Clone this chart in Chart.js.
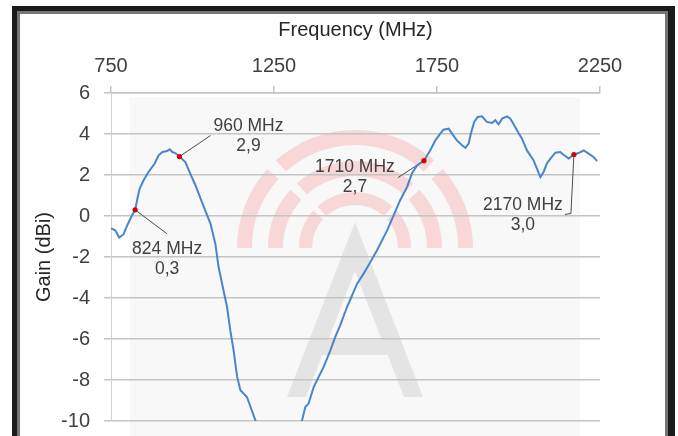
<!DOCTYPE html>
<html>
<head>
<meta charset="utf-8">
<script src="https://cdn.jsdelivr.net/npm/chart.js@4"></script>
<style>
html, body { margin: 0; padding: 0; background: #fff; }
#wrap { position: relative; width: 678px; height: 436px; overflow: hidden; }
#frame {
    position: absolute; left: 12px; top: 6px; width: 651px; height: 470px;
    border-style: solid; border-color: #1b1b1b; border-width: 5px 7px 0 5px;
    box-shadow: inset 0 0 0 3px #757575; pointer-events: none;
}
canvas { position: absolute; left: 0; top: 0; }
</style>
</head>
<body>
<div id="wrap">
    <canvas id="gainChart" width="678" height="436"></canvas>
    <div id="frame"></div>
</div>
<script>
// measured antenna gain
var freqMHz = [
    750, 763, 775, 788, 800, 812, 824, 832, 838, 850,
    865, 884, 896, 908, 922, 930, 938, 947, 960, 978,
    993, 1009, 1029, 1042, 1055, 1070, 1080, 1095, 1106, 1116,
    1126, 1137, 1147, 1167, 1193, 1220, 1250, 1280, 1310, 1336,
    1346, 1356, 1372, 1387, 1402, 1423, 1438, 1453, 1474, 1505,
    1525, 1540, 1566, 1597, 1617, 1637, 1658, 1673, 1689, 1710,
    1729, 1745, 1760, 1770, 1786, 1796, 1811, 1827, 1837, 1847,
    1854, 1864, 1875, 1888, 1903, 1919, 1929, 1939, 1950, 1965,
    1975, 1990, 2000, 2010, 2026, 2046, 2067, 2077, 2087, 2098,
    2113, 2128, 2138, 2154, 2170, 2184, 2200, 2215, 2230, 2241
];
var gainDbi = [
    -0.6, -0.7, -1.05, -0.9, -0.45, -0.05, 0.3, 0.93, 1.34, 1.74,
    2.15, 2.56, 2.96, 3.12, 3.17, 3.25, 3.12, 3.07, 2.9, 2.63,
    2.07, 1.5, 0.68, 0.15, -0.37, -1.35, -2.49, -3.62, -4.44, -5.58,
    -6.55, -7.85, -8.5, -8.83, -9.97, -10.8, -11.3, -11.3, -10.8, -9.97,
    -9.32, -9.15, -8.34, -7.85, -7.37, -6.55, -5.9, -5.33, -4.44, -3.3,
    -2.81, -2.4, -1.67, -0.7, 0.03, 0.77, 1.41, 2.07, 2.47, 2.7,
    3.2, 3.69, 4.02, 4.21, 4.26, 4.02, 3.69, 3.45, 3.32, 3.53,
    4.02, 4.59, 4.83, 4.86, 4.59, 4.54, 4.67, 4.47, 4.75, 4.86,
    4.75, 4.34, 4.05, 3.8, 3.2, 2.72, 1.9, 2.15, 2.56, 2.8,
    3.09, 3.12, 2.99, 2.8, 3.0, 3.07, 3.2, 3.04, 2.88, 2.68
];

// band edge markers
var markerFreq = [824, 960, 1710, 2170];
var markerGain = [0.3, 2.9, 2.7, 3.0];

var xTicks = [750, 1250, 1750, 2250];
var yTicks = [6, 4, 2, 0, -2, -4, -6, -8, -10];

var FONT = '"Liberation Sans", Arial, sans-serif';

// leader bends and label centre, px from each marker
var calloutOffsets = [
    { path: [[32, 24]], label: [32, 39] },
    { path: [[31, -21]], label: [69, -30] },
    { path: [[-26, 17]], label: [-69, 7] },
    { path: [[-3, 59], [-9, 60]], label: [-51, 51] }
];

// faint logo behind the plot
var watermark = {
    id: 'watermark',
    beforeDraw: function (chart) {
        var ctx = chart.ctx;
        ctx.save();
        ctx.fillStyle = '#f8f8f8';
        ctx.fillRect(130, 97, 450, 339);

        ctx.fillStyle = '#f7d7d7';
        var cx = 355, cy = 248, d = Math.PI / 180;
        [[103, 118], [72, 87], [43, 56]].forEach(function (r) {
            [[180, 222], [228, 312], [318, 360]].forEach(function (a) {
                ctx.beginPath();
                ctx.arc(cx, cy, r[1], a[0] * d, a[1] * d);
                ctx.arc(cx, cy, r[0], a[1] * d, a[0] * d, true);
                ctx.closePath();
                ctx.fill();
            });
        });

        ctx.fillStyle = '#e4e4e4';
        ctx.beginPath();
        ctx.moveTo(355, 222); ctx.lineTo(287, 397); ctx.lineTo(306, 397); ctx.lineTo(355, 271);
        ctx.closePath(); ctx.fill();
        ctx.beginPath();
        ctx.moveTo(355, 222); ctx.lineTo(423, 397); ctx.lineTo(404, 397); ctx.lineTo(355, 271);
        ctx.closePath(); ctx.fill();
        ctx.fillRect(322, 340, 66, 15);
        ctx.restore();
    }
};

var callouts = {
    id: 'callouts',
    beforeDatasetsDraw: function (chart) {
        var ctx = chart.ctx, x = chart.scales.x, y = chart.scales.y;
        ctx.save();
        ctx.strokeStyle = '#4d4d4d';
        ctx.lineWidth = 1;
        ctx.fillStyle = '#404040';
        ctx.font = '17.5px ' + FONT;
        ctx.textAlign = 'center';
        ctx.textBaseline = 'middle';
        markerFreq.forEach(function (f, i) {
            var px = x.getPixelForValue(f), py = y.getPixelForValue(markerGain[i]);
            var c = calloutOffsets[i];
            ctx.beginPath();
            ctx.moveTo(px, py);
            c.path.forEach(function (p) { ctx.lineTo(px + p[0], py + p[1]); });
            ctx.stroke();
            ctx.fillText(f + ' MHz', px + c.label[0], py + c.label[1]);
            ctx.fillText(markerGain[i].toFixed(1).replace('.', ','), px + c.label[0], py + c.label[1] + 20);
        });
        ctx.restore();
    }
};

var ctx = document.getElementById('gainChart');

var gainChart = new Chart(ctx, {
    type: 'line',
    data: {
        datasets: [{
            data: markerFreq.map(function (f, i) { return { x: f, y: markerGain[i] }; }),
            showLine: false,
            pointRadius: 2.6,
            pointBorderWidth: 0,
            pointBackgroundColor: '#d60000',
            order: 0
        }, {
            data: freqMHz.map(function (f, i) { return { x: f, y: gainDbi[i] }; }),
            borderColor: '#4885ca',
            borderWidth: 2,
            pointRadius: 0,
            tension: 0,
            order: 1
        }]
    },
    options: {
        responsive: false,
        animation: false,
        devicePixelRatio: 1,
        layout: { padding: { left: 0, top: 0, right: 78, bottom: 15 } },
        plugins: { legend: { display: false }, tooltip: { enabled: false } },
        scales: {
            x: {
                type: 'linear',
                position: 'top',
                min: 750,
                max: 2250,
                afterBuildTicks: function (s) { s.ticks = xTicks.map(function (v) { return { value: v }; }); },
                afterFit: function (s) { s.height = 93; },
                grid: { drawOnChartArea: false, drawTicks: true, tickLength: 7, color: '#c4c4c4', lineWidth: 1.5 },
                border: { color: '#c4c4c4', width: 1.5 },
                ticks: {
                    color: '#404040', padding: 8, font: { family: FONT, size: 20 },
                    callback: function (v) { return String(v); }
                },
                title: {
                    display: true,
                    text: 'Frequency (MHz)',
                    color: '#262626',
                    font: { family: FONT, size: 20 },
                    padding: { top: 18, bottom: 0 }
                }
            },
            y: {
                min: -10,
                max: 6,
                afterBuildTicks: function (s) { s.ticks = yTicks.map(function (v) { return { value: v }; }); },
                afterFit: function (s) {
                    s.width = 111;
                    s.paddingTop = 0;
                    s.paddingBottom = 0;
                },
                grid: { tickLength: 7, color: '#c4c4c4', lineWidth: 1.5 },
                border: { color: '#d2d2d2', width: 1 },
                ticks: { color: '#404040', padding: 14, font: { family: FONT, size: 20 } },
                title: {
                    display: true,
                    text: 'Gain (dBi)',
                    color: '#262626',
                    font: { family: FONT, size: 20 },
                    padding: { top: 32, bottom: 0 }
                }
            }
        }
    },
    plugins: [watermark, callouts]
});
</script>
</body>
</html>
